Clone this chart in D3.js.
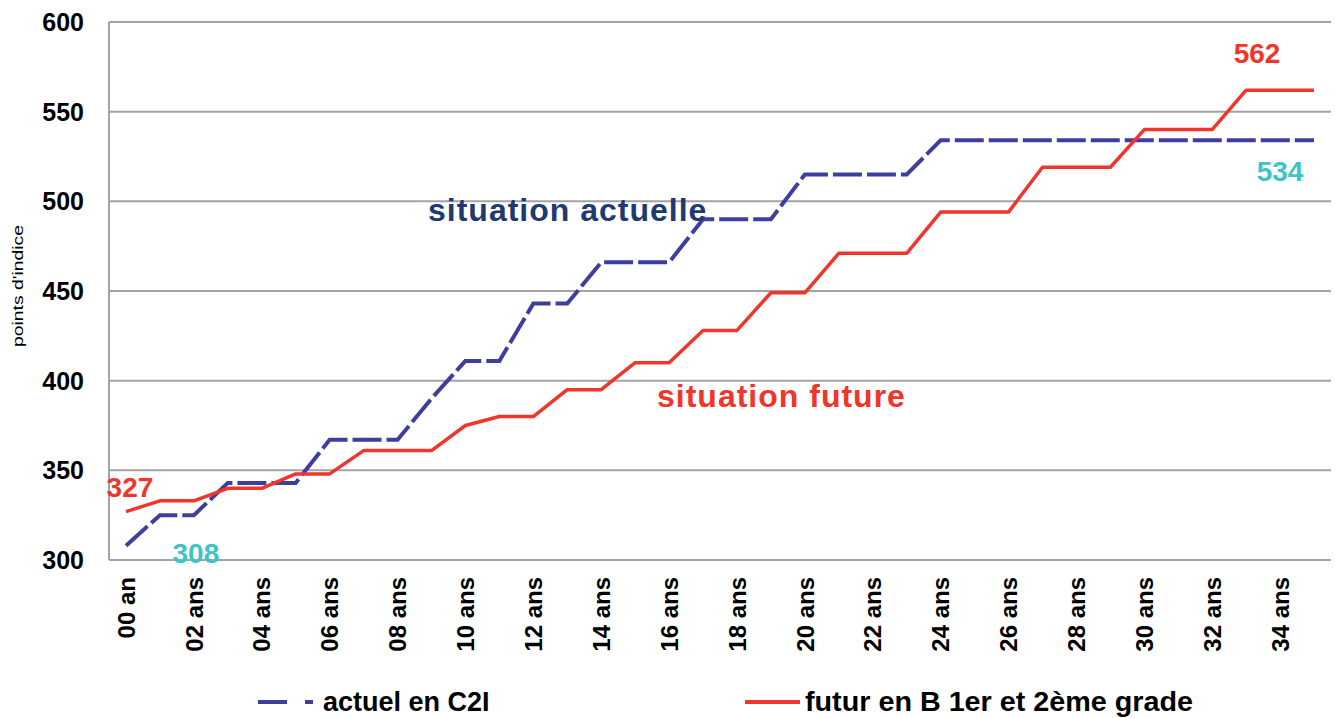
<!DOCTYPE html>
<html>
<head>
<meta charset="utf-8">
<script src="https://cdn.jsdelivr.net/npm/d3@7"></script>
<style>
  body { margin: 0; background: #fff; }
  svg { display: block; font-family: "Liberation Sans", Arial, sans-serif; }
</style>
</head>
<body>
<div id="chart"></div>
<script>
// years of service (categories)
const years = [0, 1, 2, 3, 4, 5, 6, 7, 8, 9, 10, 11, 12, 13, 14, 15, 16, 17,
               18, 19, 20, 21, 22, 23, 24, 25, 26, 27, 28, 29, 30, 31, 32, 33, 34, 35];
const tickYears = [0, 2, 4, 6, 8, 10, 12, 14, 16, 18, 20, 22, 24, 26, 28, 30, 32, 34];
const tickLabels = ["00 an", "02 ans", "04 ans", "06 ans", "08 ans", "10 ans", "12 ans", "14 ans", "16 ans",
                    "18 ans", "20 ans", "22 ans", "24 ans", "26 ans", "28 ans", "30 ans", "32 ans", "34 ans"];
const yTicks = [300, 350, 400, 450, 500, 550, 600];

// actuel en C2I
const actuel = [308, 325, 325, 343, 343, 343, 367, 367, 367, 390, 411, 411, 443, 443, 466, 466, 466, 490,
                490, 490, 515, 515, 515, 515, 534, 534, 534, 534, 534, 534, 534, 534, 534, 534, 534, 534];
// futur en B 1er et 2ème grade
const futur = [327, 333, 333, 340, 340, 348, 348, 361, 361, 361, 375, 380, 380, 395, 395, 410, 410, 428,
               428, 449, 449, 471, 471, 471, 494, 494, 494, 519, 519, 519, 540, 540, 540, 562, 562, 562];

const seriesNames = ["actuel en C2I", "futur en B 1er et 2ème grade"];

const width = 1335, height = 718;
const blue = "#3e3e9e", red = "#f0352b", teal = "#3ec3c6", navy = "#1f3a72";

const svg = d3.select("#chart").append("svg")
    .attr("width", width).attr("height", height);

const x = d3.scaleBand().domain(years).range([109, 1331]);
const y = d3.scaleLinear().domain([300, 600]).range([560, 22]);
const cx = d => x(d) + x.bandwidth() / 2;

// gridlines
svg.append("g")
    .selectAll("line").data(yTicks.filter(v => v > 300)).enter().append("line")
    .attr("x1", 109).attr("x2", 1331)
    .attr("y1", d => y(d)).attr("y2", d => y(d))
    .attr("stroke", "#a3a3a3").attr("stroke-width", 2);

// axis lines
svg.append("line").attr("x1", 109).attr("x2", 109).attr("y1", y(600)).attr("y2", y(300))
    .attr("stroke", "#a3a3a3").attr("stroke-width", 2);
svg.append("line").attr("x1", 109).attr("x2", 1331).attr("y1", y(300)).attr("y2", y(300))
    .attr("stroke", "#a3a3a3").attr("stroke-width", 2);

// y tick labels
svg.append("g")
    .selectAll("text").data(yTicks).enter().append("text")
    .attr("x", 84).attr("y", d => y(d)).attr("dy", "0.36em")
    .attr("text-anchor", "end")
    .attr("font-size", 25).attr("font-weight", "bold").attr("fill", "#000")
    .text(d => d);

// y axis title
svg.append("text")
    .attr("transform", "translate(23," + 286 + ") rotate(-90)")
    .attr("text-anchor", "middle")
    .attr("font-size", 14)
    .attr("textLength", 122).attr("lengthAdjust", "spacingAndGlyphs")
    .text("points d'indice");

// x tick labels
svg.append("g")
    .selectAll("text").data(tickYears).enter().append("text")
    .attr("transform", d => "translate(" + cx(d) + ",577) rotate(-90)")
    .attr("dy", "0.36em")
    .attr("text-anchor", "end")
    .attr("font-size", 24).attr("font-weight", "bold").attr("fill", "#000")
    .text((d, i) => tickLabels[i]);

const line = d3.line().x((d, i) => cx(years[i])).y(d => y(d));

svg.append("path").datum(actuel)
    .attr("d", line)
    .attr("fill", "none").attr("stroke", blue).attr("stroke-width", 4)
    .attr("stroke-dasharray", "29,5");

svg.append("path").datum(futur)
    .attr("d", line)
    .attr("fill", "none").attr("stroke", red).attr("stroke-width", 3.5)
    .attr("stroke-linejoin", "round");

// value labels
const last = years.length - 1;
function valueLabel(txt, px, py, color) {
    svg.append("text").attr("x", px).attr("y", py)
        .attr("text-anchor", "middle")
        .attr("font-size", 28).attr("font-weight", "bold").attr("fill", color)
        .text(txt);
}
valueLabel(futur[0], cx(years[0]) + 4, y(futur[0]) - 15, red);
valueLabel(actuel[0], cx(years[2]) + 2, y(300) + 3, teal);
valueLabel(futur[last], cx(years[last - 1]) - 23, y(futur[last]) - 27, red);
valueLabel(actuel[last], cx(years[last - 1]) + 0, y(actuel[last]) + 41, teal);

// series annotations
svg.append("text").attr("x", 428).attr("y", 221)
    .attr("font-size", 32).attr("font-weight", "bold").attr("fill", navy)
    .attr("letter-spacing", 1)
    .text("situation actuelle");
svg.append("text").attr("x", 657).attr("y", 407)
    .attr("font-size", 32).attr("font-weight", "bold").attr("fill", red)
    .attr("letter-spacing", 1)
    .text("situation future");

// legend
const legend = svg.append("g");
legend.append("line").attr("x1", 258).attr("x2", 318).attr("y1", 702).attr("y2", 702)
    .attr("stroke", blue).attr("stroke-width", 4).attr("stroke-dasharray", "29,18,8");
legend.append("text").attr("x", 323).attr("y", 711)
    .attr("font-size", 27).attr("font-weight", "bold").attr("fill", "#000")
    .text(seriesNames[0]);
legend.append("line").attr("x1", 745).attr("x2", 800).attr("y1", 702).attr("y2", 702)
    .attr("stroke", red).attr("stroke-width", 4);
legend.append("text").attr("x", 805).attr("y", 711)
    .attr("font-size", 27).attr("font-weight", "bold").attr("fill", "#000")
    .attr("textLength", 388).attr("lengthAdjust", "spacingAndGlyphs")
    .text(seriesNames[1]);
</script>
</body>
</html>
